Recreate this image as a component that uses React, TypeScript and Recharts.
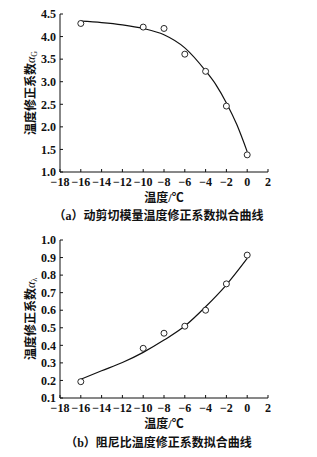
import React from 'react';
import { ComposedChart, Line, Scatter, XAxis, YAxis } from 'recharts';

const xTicks = [-18, -16, -14, -12, -10, -8, -6, -4, -2, 0, 2];

// (a) dynamic shear modulus temperature correction coefficient
const aTemps = [-16, -10, -8, -6, -4, -2, 0];
const aMeasured = [4.29, 4.21, 4.18, 3.61, 3.23, 2.46, 1.38];
const aFitTemps = [-16, -14, -12, -10, -8, -6, -4, -3, -2, -1, 0];
const aFitValues = [4.34, 4.31, 4.26, 4.18, 4.04, 3.75, 3.24, 2.93, 2.53, 2.05, 1.45];
const aYTicks = [1.0, 1.5, 2.0, 2.5, 3.0, 3.5, 4.0, 4.5];

// (b) damping ratio temperature correction coefficient
const bTemps = [-16, -10, -8, -6, -4, -2, 0];
const bMeasured = [0.193, 0.383, 0.469, 0.509, 0.6, 0.75, 0.914];
const bFitTemps = [-16, -14, -12, -10, -8, -6, -4, -2, 0];
const bFitValues = [0.207, 0.255, 0.302, 0.36, 0.43, 0.51, 0.62, 0.745, 0.895];
const bYTicks = [0.1, 0.2, 0.3, 0.4, 0.5, 0.6, 0.7, 0.8, 0.9, 1.0];

const zip = (xs: number[], ys: number[]) => xs.map((x, i) => ({ x, y: ys[i] }));

const FONT = '"Liberation Serif", "Times New Roman", "Noto Sans CJK SC", serif';
const tickStyle = { fontFamily: FONT, fontSize: 12, fontWeight: 700, fill: '#111' };
const fmtX = (v: number) => String(v).replace('-', '\u2212');

const YTitle = (sub: string) => (props: any) => {
  const vb = props.viewBox || {};
  const cx = 31;
  const cy = vb.y + vb.height / 2;
  return (
    <text
      x={cx}
      y={cy}
      transform={`rotate(-90 ${cx} ${cy})`}
      textAnchor="middle"
      dominantBaseline="central"
      fontFamily={FONT}
      fontSize={12}
      fontWeight={700}
      fill="#111"
    >
      温度修正系数
      <tspan fontStyle="italic" fontWeight={400}>α</tspan>
      <tspan fontSize={8} dy={3} fontWeight={400}>{sub}</tspan>
    </text>
  );
};

const Circle = (props: any) => (
  <circle cx={props.cx} cy={props.cy} r={3} fill="#fff" stroke="#111" strokeWidth={0.9} />
);

function Panel(props: {
  measured: { x: number; y: number }[];
  fit: { x: number; y: number }[];
  yTicks: number[];
  sub: string;
}) {
  const { measured, fit, yTicks, sub } = props;
  return (
    <ComposedChart
      width={317}
      height={208}
      margin={{ top: 14, right: 49, bottom: 6, left: 20 }}
    >
      <XAxis
        type="number"
        dataKey="x"
        domain={[-18, 2]}
        ticks={xTicks}
        interval={0}
        tickFormatter={fmtX}
        tick={tickStyle}
        tickSize={-3}
        tickMargin={8.5}
        stroke="#111"
        height={30}
        allowDataOverflow
        label={{
          value: '温度/℃',
          position: 'insideBottom',
          offset: 0,
          style: { fontFamily: FONT, fontSize: 12, fontWeight: 700, fill: '#111' },
        }}
      />
      <YAxis
        type="number"
        dataKey="y"
        domain={[yTicks[0], yTicks[yTicks.length - 1]]}
        ticks={yTicks}
        interval={0}
        tickFormatter={(v: number) => v.toFixed(1)}
        tick={tickStyle}
        tickSize={-3}
        tickMargin={7}
        stroke="#111"
        width={40}
        allowDataOverflow
        label={{ content: YTitle(sub) } as any}
      />
      <Line
        data={fit}
        dataKey="y"
        type="monotone"
        stroke="#111"
        strokeWidth={1.2}
        dot={false}
        activeDot={false}
        isAnimationActive={false}
      />
      <Scatter data={measured} dataKey="y" shape={Circle} isAnimationActive={false} />
    </ComposedChart>
  );
}

const captionStyle: React.CSSProperties = {
  position: 'absolute',
  left: 0,
  width: 317,
  textAlign: 'center',
  fontFamily: FONT,
  fontSize: 12,
  fontWeight: 700,
  color: '#111',
  lineHeight: '14px',
};

export default function App() {
  return (
    <div style={{ position: 'absolute', left: 0, top: 0, width: 317, height: 457, background: '#fff' }}>
      <div style={{ position: 'absolute', left: 0, top: 0 }}>
        <Panel measured={zip(aTemps, aMeasured)} fit={zip(aFitTemps, aFitValues)} yTicks={aYTicks} sub="G" />
      </div>
      <div style={{ ...captionStyle, top: 209 }}>（a）动剪切模量温度修正系数拟合曲线</div>
      <div style={{ position: 'absolute', left: 0, top: 226 }}>
        <Panel measured={zip(bTemps, bMeasured)} fit={zip(bFitTemps, bFitValues)} yTicks={bYTicks} sub="λ" />
      </div>
      <div style={{ ...captionStyle, top: 436 }}>（b）阻尼比温度修正系数拟合曲线</div>
    </div>
  );
}
